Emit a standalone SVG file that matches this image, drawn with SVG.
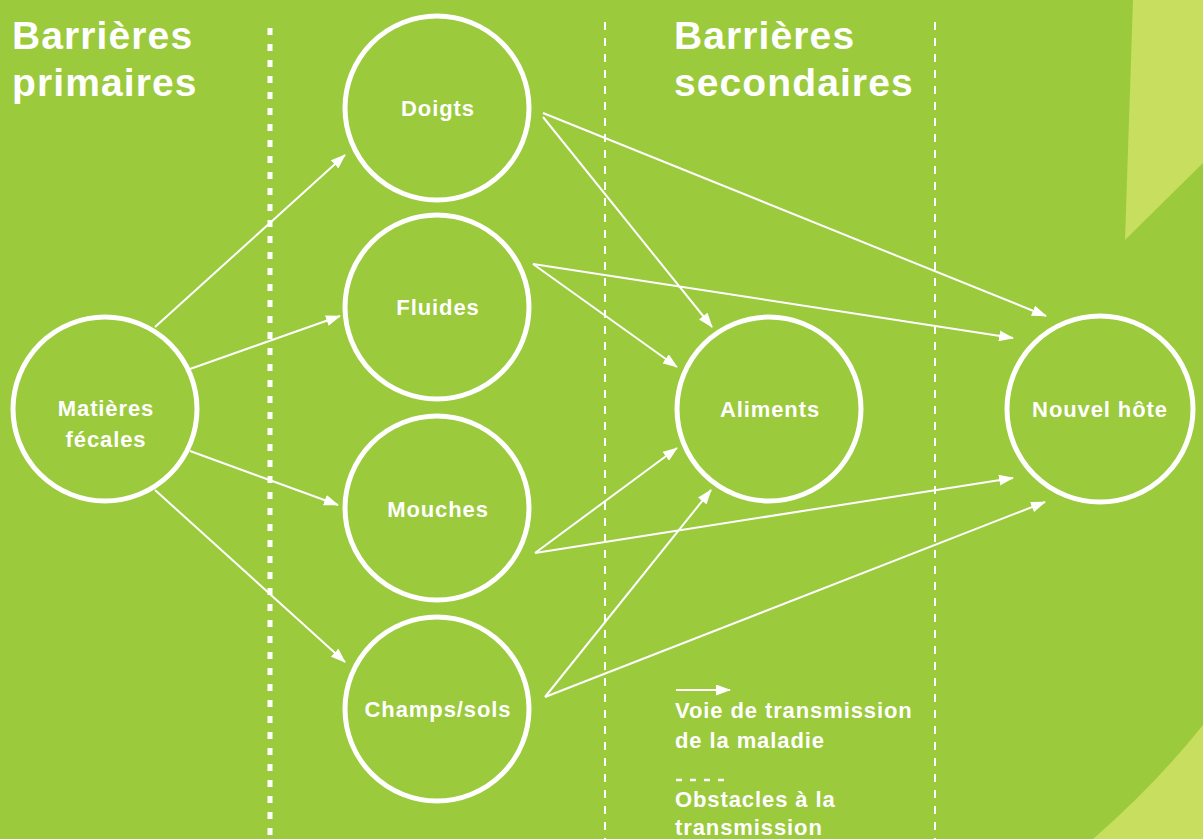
<svg xmlns="http://www.w3.org/2000/svg" width="1203" height="839" viewBox="0 0 1203 839">
  <defs>
    <marker id="ah" viewBox="0 0 15 11" refX="14" refY="5.5" markerWidth="15" markerHeight="11" markerUnits="userSpaceOnUse" orient="auto">
      <path d="M0,0 L15,5.5 L0,11 Z" fill="#ffffff"/>
    </marker>
    <style>
      .bg { fill: #9bca3c; }
      .accent { fill: #c8de5e; }
      .node circle { fill: none; stroke: #ffffff; stroke-width: 5; }
      .node text, .lbl { font-family: "Liberation Sans", Arial, Helvetica, sans-serif; font-weight: bold; fill: #ffffff; }
      .node text { font-size: 22px; letter-spacing: 0.9px; text-anchor: middle; }
      .title { font-size: 39px; letter-spacing: 1.1px; }
      .legend { font-size: 22px; letter-spacing: 0.9px; }
      .conn line { stroke: #ffffff; stroke-width: 2; marker-end: url(#ah); }
      .sepA { stroke: #ffffff; stroke-width: 5; stroke-dasharray: 7 9; fill: none; }
      .sepB { stroke: #ffffff; stroke-width: 2; stroke-dasharray: 8 8; fill: none; }
    </style>
  </defs>

  <rect class="bg" x="0" y="0" width="1203" height="839"/>
  <polygon class="accent" points="1133,0 1203,0 1203,163 1125,240"/>
  <path class="accent" d="M1093,839 Q1155,785 1203,725 L1203,839 Z"/>

  <g id="separators">
    <line class="sepA" x1="270" y1="28" x2="270" y2="839"/>
    <line class="sepB" x1="605" y1="22" x2="605" y2="839"/>
    <line class="sepB" x1="935" y1="22" x2="935" y2="839"/>
  </g>

  <g id="titles">
    <text class="lbl title" x="12" y="49">Barrières</text>
    <text class="lbl title" x="12" y="96">primaires</text>
    <text class="lbl title" x="674" y="49">Barrières</text>
    <text class="lbl title" x="674" y="96">secondaires</text>
  </g>

  <g id="connectors" class="conn">
    <line x1="155" y1="327" x2="345" y2="155"/>
    <line x1="190" y1="369" x2="340" y2="316"/>
    <line x1="190" y1="451" x2="338" y2="505"/>
    <line x1="155" y1="490" x2="345" y2="662"/>
    <line x1="543" y1="117" x2="712" y2="327"/>
    <line x1="543" y1="113" x2="1046" y2="316"/>
    <line x1="533" y1="264" x2="677" y2="367"/>
    <line x1="533" y1="264" x2="1013" y2="338"/>
    <line x1="535" y1="553" x2="677" y2="448"/>
    <line x1="535" y1="553" x2="1013" y2="478"/>
    <line x1="545" y1="697" x2="711" y2="490"/>
    <line x1="545" y1="697" x2="1045" y2="502"/>
  </g>

  <g id="node-matieres" class="node">
    <circle cx="105" cy="409" r="92"/>
    <text x="106" y="416">Matières</text>
    <text x="106" y="447">fécales</text>
  </g>
  <g id="node-doigts" class="node">
    <circle cx="437" cy="108" r="92"/>
    <text x="438" y="116">Doigts</text>
  </g>
  <g id="node-fluides" class="node">
    <circle cx="437" cy="307" r="92"/>
    <text x="438" y="315">Fluides</text>
  </g>
  <g id="node-mouches" class="node">
    <circle cx="437" cy="508" r="92"/>
    <text x="438" y="517">Mouches</text>
  </g>
  <g id="node-champs" class="node">
    <circle cx="437" cy="709" r="92"/>
    <text x="438" y="717">Champs/sols</text>
  </g>
  <g id="node-aliments" class="node">
    <circle cx="769" cy="409" r="92"/>
    <text x="770" y="417">Aliments</text>
  </g>
  <g id="node-hote" class="node">
    <circle cx="1100" cy="409" r="93"/>
    <text x="1100" y="417">Nouvel hôte</text>
  </g>

  <g id="legend">
    <line x1="676" y1="690" x2="730" y2="690" stroke="#ffffff" stroke-width="2" marker-end="url(#ah)"/>
    <text class="lbl legend" x="675" y="718">Voie de transmission</text>
    <text class="lbl legend" x="675" y="748">de la maladie</text>
    <line x1="676" y1="780" x2="728" y2="780" stroke="#ffffff" stroke-width="2.5" stroke-dasharray="6 8"/>
    <text class="lbl legend" x="675" y="807">Obstacles à la</text>
    <text class="lbl legend" x="675" y="835">transmission</text>
  </g>
</svg>
